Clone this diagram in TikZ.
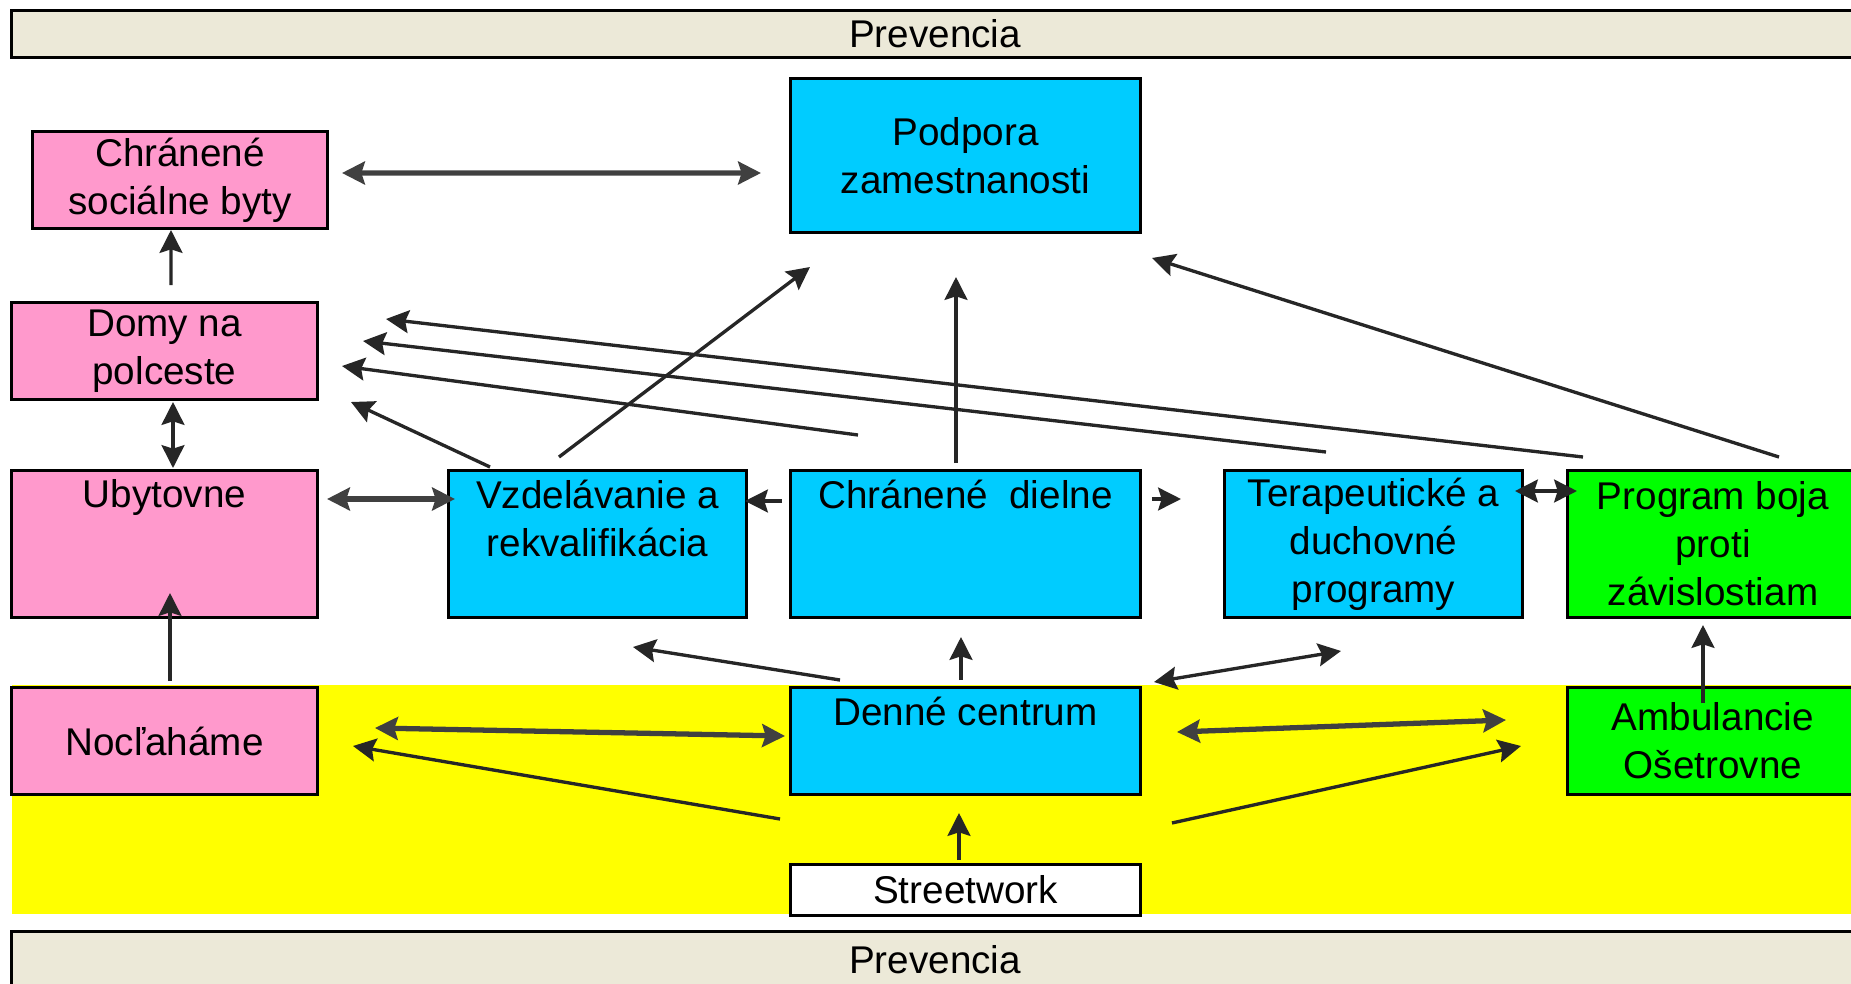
\documentclass[tikz,border=0pt]{standalone}
\usepackage{fontspec}
\setmainfont{Liberation Sans}
\usetikzlibrary{arrows.meta,positioning,calc}

\definecolor{boxpink}{HTML}{FF99CC}
\definecolor{boxcyan}{HTML}{00CCFF}
\definecolor{boxgreen}{HTML}{00FF00}
\definecolor{zoneyellow}{HTML}{FFFF00}
\definecolor{barbeige}{HTML}{ECE9D8}

\begin{document}
\begin{tikzpicture}[x=0.1mm,y=-0.1mm,on grid,
    font=\fontsize{11}{13.7}\selectfont]
  \tikzstyle{box}=[rectangle,draw=black,line width=0.85pt,inner sep=1pt,align=center]
  \tikzstyle{pinkB}=[box,fill=boxpink]
  \tikzstyle{cyanB}=[box,fill=boxcyan]
  \tikzstyle{greenB}=[box,fill=boxgreen]
  \tikzstyle{barB}=[box,fill=barbeige,minimum width=184.7mm]
  \tikzstyle{toptext}=[anchor=north,inner sep=1mm,align=center]
  \tikzstyle{arr}=[-{Stealth[length=6.5pt,width=6.5pt,inset=1pt]},line width=0.95pt,color=black!85]
  \tikzstyle{arrboth}=[{Stealth[length=6.5pt,width=6.5pt,inset=1pt]}-{Stealth[length=6.5pt,width=6.5pt,inset=1pt]},line width=0.95pt,color=black!85]
  \tikzstyle{arrthick}=[arrboth,line width=1.5pt,color=black!75]

  \useasboundingbox (0,0) rectangle (1851,983);
  \clip (0,0) rectangle (1851,983);
  \fill[zoneyellow] (12,685) rectangle (1870,914);

  % Boxes
  \node[barB, minimum height=4.7mm] (prevtop) at (935,34) {Prevencia};
  \node[barB, minimum height=5.6mm] (prevbot) at (935,959.5) {Prevencia};
  \node[pinkB, minimum width=29.5mm, minimum height=9.7mm] (byty) at (180,180) {Chránené\\sociálne byty};
  \node[pinkB, minimum width=30.6mm, minimum height=14.7mm,
        label={[toptext]north:Ubytovne}] (ubyt) at (164.5,544) {};
  \node[pinkB, minimum width=30.6mm, minimum height=9.7mm] (domy) [above=19.3mm of ubyt] {Domy na\\polceste};
  \node[pinkB, minimum width=30.6mm, minimum height=10.7mm] (nocl) [below=19.7mm of ubyt] {Nocľaháme};
  \node[cyanB, minimum width=29.8mm, minimum height=14.7mm,
        label={[toptext]north:{Vzdelávanie a\\rekvalifikácia}}] (vzdel) [right=43.3mm of ubyt] {};
  \node[cyanB, minimum width=35mm, minimum height=14.7mm,
        label={[toptext]north:{Chránené\ \ dielne}}] (dielne) [right=36.8mm of vzdel] {};
  \node[cyanB, minimum width=29.8mm, minimum height=14.7mm] (terap) [right=40.8mm of dielne] {Terapeutické a\\duchovné\\programy};
  \node[greenB, minimum width=29.1mm, minimum height=14.7mm] (program) [right=33.95mm of terap] {Program boja\\proti\\závislostiam};
  \node[cyanB, minimum width=35mm, minimum height=15.4mm] (podpora) [above=38.85mm of dielne] {Podpora\\zamestnanosti};
  \node[cyanB, minimum width=35mm, minimum height=10.7mm,
        label={[toptext]north:Denné centrum}] (denne) [below=19.7mm of dielne] {};
  \node[greenB, minimum width=29.1mm, minimum height=10.7mm] (ambul) [below=19.7mm of program] {Ambulancie\\Ošetrovne};
  \node[box, fill=white, minimum width=35mm, minimum height=5.1mm] (street) [below=14.9mm of denne] {Streetwork};

  % Arrows
  \path[arrthick] ($(byty.east)+(13,-7)$) edge ($(podpora.west)+(-28,17.5)$);
  \path[arr] ($(domy.north)+(6.5,-16)$) edge ($(byty.south)+(-9,0)$);
  \path[arrboth] ($(domy.south)+(8.5,1)$) edge ($(ubyt.north)+(8.5,-1)$);
  \path[arrthick] ($(ubyt.east)+(8,-45)$) edge ($(vzdel.west)+(8,-45)$);
  \path[arr] ($(dielne.west)+(-7,-43)$) edge ($(vzdel.east)+(-3,-43)$);
  \path[arr] ($(dielne.east)+(10,-45)$) edge ($(terap.west)+(-42,-45)$);
  \path[arrboth] ($(terap.east)+(-9,-53)$) edge ($(program.west)+(11,-53)$);
  \path[arr] ($(program.north)+(66,-12)$) edge ($(podpora.south east)+(10,24)$);
  \path[arr] ($(dielne.north)+(-9.5,-6)$) edge ($(podpora.south)+(-9.5,43)$);
  \path[arr] ($(vzdel.north)+(-38.5,-12)$) edge ($(podpora.south west)+(21,33)$);
  \path[arr] ($(vzdel.north west)+(43,-2)$) edge ($(domy.south east)+(32,1)$);
  \path[arr] ($(program.north west)+(17,-12)$) edge ($(domy.east)+(67,-32)$);
  \path[arr] ($(terap.north)+(-47.5,-17)$) edge ($(domy.east)+(44,-10)$);
  \path[arr] ($(dielne.north west)+(69,-34)$) edge ($(domy.east)+(23,15)$);
  \path[arr] ($(nocl.north)+(5.5,-5)$) edge ($(ubyt.south)+(5.5,-26)$);
  \path[arr] ($(denne.north west)+(51,-6)$) edge ($(vzdel.south)+(35.5,28)$);
  \path[arr] ($(denne.north)+(-4.5,-6)$) edge ($(dielne.south)+(-4.5,18)$);
  \path[arrboth] ($(denne.north east)+(12,-4)$) edge ($(terap.south)+(-32.5,32)$);
  \path[arrthick] ($(nocl.east)+(56,-13)$) edge ($(denne.west)+(-4,-5)$);
  \path[arr] ($(denne.south west)+(-9,23)$) edge ($(nocl.east)+(34,5)$);
  \path[arrthick] ($(denne.east)+(35,-9)$) edge ($(ambul.west)+(-60,-21)$);
  \path[arr] ($(denne.south east)+(30,27)$) edge ($(ambul.west)+(-45,5)$);
  \path[arr] ($(ambul.north)+(-10,17)$) edge ($(program.south)+(-10,6)$);
  \path[arr] ($(street.north)+(-6.5,-3)$) edge ($(denne.south)+(-6.5,17)$);
\end{tikzpicture}
\end{document}
